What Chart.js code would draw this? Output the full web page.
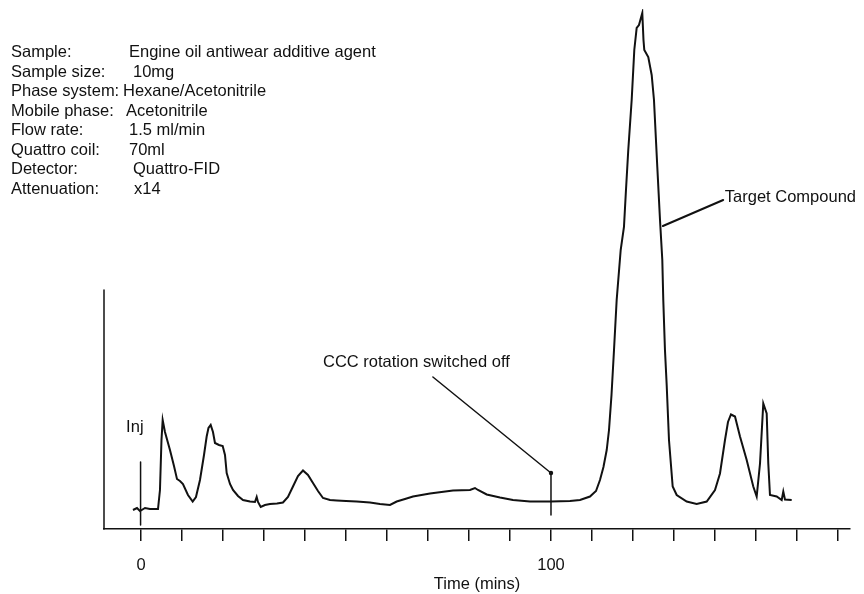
<!DOCTYPE html>
<html>
<head>
<meta charset="utf-8">
<title>Engine oil antiwear additive agent - CCC run</title>
<script src="https://cdn.jsdelivr.net/npm/chart.js@4.4.1/dist/chart.umd.min.js"></script>
<style>
  html, body { margin: 0; padding: 0; background: #fff; }
  #wrap { position: relative; width: 864px; height: 594px; }
  #chart { position: absolute; left: 0; top: 0; }
  #conditions {
    position: absolute; left: 0; top: 42px;
    font-family: 'Liberation Sans', Arial, Helvetica, sans-serif;
    font-size: 16.5px; line-height: 19.5px; color: #111;
  }
  #conditions .row { position: relative; height: 19.5px; white-space: nowrap; }
  #conditions .lbl { position: absolute; left: 11px; }
  #conditions .val { position: absolute; }
</style>
</head>
<body>
<div id="wrap">
  <canvas id="chart" width="864" height="594"></canvas>
  <div id="conditions">
    <div class="row"><span class="lbl">Sample:</span><span class="val" style="left:129px">Engine oil antiwear additive agent</span></div>
    <div class="row"><span class="lbl">Sample size:</span><span class="val" style="left:133px">10mg</span></div>
    <div class="row"><span class="lbl">Phase system:</span><span class="val" style="left:123px">Hexane/Acetonitrile</span></div>
    <div class="row"><span class="lbl">Mobile phase:</span><span class="val" style="left:126px">Acetonitrile</span></div>
    <div class="row"><span class="lbl">Flow rate:</span><span class="val" style="left:129px">1.5 ml/min</span></div>
    <div class="row"><span class="lbl">Quattro coil:</span><span class="val" style="left:129px">70ml</span></div>
    <div class="row"><span class="lbl">Detector:</span><span class="val" style="left:133px">Quattro-FID</span></div>
    <div class="row"><span class="lbl">Attenuation:</span><span class="val" style="left:134px">x14</span></div>
  </div>
</div>
<script>
// detector trace: time (min) and FID response (arbitrary units)
const timeMin = [
  -1.95, -0.98, -0.24, 0.98, 2.2, 4.15, 4.63, 5.0, 5.29, 5.85,
  7.07, 8.05, 8.78, 9.51, 10.24, 11.46, 12.61, 13.41, 14.39, 15.37,
  16.02, 16.46, 17.0, 17.56, 18.05, 19.02, 19.93, 20.49, 20.9, 21.71,
  22.44, 23.66, 24.88, 26.59, 27.8, 28.22, 28.54, 29.2, 30.24, 31.46,
  33.17, 34.63, 35.85, 37.07, 38.29, 39.51, 40.73, 41.95, 43.17, 44.39,
  46.1, 47.73, 50.0, 52.61, 55.85, 58.29, 60.73, 62.37, 64.39, 66.34,
  70.49, 76.1, 80.24, 81.46, 82.2, 84.32, 87.56, 90.73, 94.88, 100.0,
  104.63, 107.07, 109.51, 110.98, 111.95, 112.8, 113.59, 114.15, 114.76, 115.37,
  116.02, 117.0, 117.8, 118.29, 118.85, 119.68, 120.32, 120.9, 121.46, 122.27,
  122.56, 122.76, 123.73, 124.56, 125.12, 125.93, 126.59, 127.15, 127.39, 127.8,
  128.22, 128.78, 129.68, 130.66, 133.1, 135.54, 137.98, 140.0, 141.22, 142.44,
  143.17, 143.9, 144.88, 146.1, 147.73, 149.34, 150.17, 150.98, 151.78, 152.61,
  153.0, 153.41, 155.05, 156.27, 156.66, 157.07, 158.71
];
const response = [
  3.8, 4.2, 3.6, 4.2, 4.0, 4.0, 7.8, 17.8, 21.8, 19.4,
  15.8, 12.6, 10.0, 9.6, 9.0, 6.8, 5.5, 6.4, 9.8, 14.8,
  18.5, 20.2, 20.8, 19.4, 17.2, 16.8, 16.6, 14.8, 11.2, 9.0,
  7.8, 6.6, 5.8, 5.5, 5.4, 6.4, 5.4, 4.4, 4.8, 5.0,
  5.1, 5.3, 6.4, 8.5, 10.6, 11.7, 10.8, 9.2, 7.6, 6.2,
  5.8, 5.7, 5.6, 5.5, 5.3, 5.0, 4.8, 5.5, 6.0, 6.5,
  7.1, 7.7, 7.8, 8.2, 7.8, 6.9, 6.3, 5.8, 5.5, 5.5,
  5.6, 5.8, 6.5, 7.6, 9.8, 12.4, 15.8, 19.8, 26.8, 35.8,
  45.8, 55.8, 60.4, 67.8, 75.8, 85.8, 95.8, 100.2, 100.8, 103.2,
  97.8, 95.8, 94.4, 90.8, 85.8, 72.4, 61.8, 53.8, 45.8, 35.8,
  28.8, 17.8, 8.5, 6.8, 5.5, 5.0, 5.5, 7.8, 11.1, 17.8,
  21.4, 22.9, 22.5, 18.5, 13.8, 8.5, 6.5, 13.1, 25.1, 23.1,
  13.1, 6.8, 6.5, 5.8, 7.5, 5.9, 5.8
];

// axis ticks
const xTicks = [0, 10, 20, 30, 40, 50, 60, 70, 80, 90, 100, 110, 120, 130, 140, 150, 160, 170];
const xLabeled = [0, 100];

const X_MIN = -9.02;
const X_MAX = 172.93;
const Y_MAX = 104;
const Y_AXIS_TOP = 47.8;   // the drawn y axis stops part way up

// markers on the trace
const injMark = { t: -0.1, from: 0.8, to: 13.4, labelT: -1.5, labelV: 20.4, text: 'Inj' };
const rotationOff = { t: 100, from: 2.8, to: 11.2, leadT: 71.2, leadV: 30.4, labelT: 44.4, labelV: 33.4, text: 'CCC rotation switched off' };
const target = { t: 127.3, v: 60.6, leadT: 142.0, leadV: 65.8, labelT: 142.4, labelV: 66.4, text: 'Target Compound' };

const INK = '#111';
const FONT = "16.5px 'Liberation Sans', Arial, Helvetica, sans-serif";

const markers = {
  id: 'markers',
  afterDatasetsDraw(chart) {
    const { ctx } = chart;
    const xs = chart.scales.x, ys = chart.scales.y;
    const px = v => xs.getPixelForValue(v);
    const py = v => ys.getPixelForValue(v);
    ctx.save();
    ctx.strokeStyle = INK;
    ctx.fillStyle = INK;
    ctx.lineCap = 'round';

    // left axis line
    ctx.lineWidth = 1.5;
    ctx.beginPath();
    ctx.moveTo(px(X_MIN), py(0));
    ctx.lineTo(px(X_MIN), py(Y_AXIS_TOP));
    ctx.stroke();

    // injection
    ctx.lineWidth = 1.5;
    ctx.beginPath();
    ctx.moveTo(px(injMark.t), py(injMark.from));
    ctx.lineTo(px(injMark.t), py(injMark.to));
    ctx.stroke();

    // rotation switched off
    ctx.beginPath();
    ctx.moveTo(px(rotationOff.t), py(rotationOff.from));
    ctx.lineTo(px(rotationOff.t), py(rotationOff.to));
    ctx.lineTo(px(rotationOff.leadT), py(rotationOff.leadV));
    ctx.stroke();
    ctx.beginPath();
    ctx.arc(px(rotationOff.t), py(rotationOff.to), 2.2, 0, Math.PI * 2);
    ctx.fill();

    // target compound leader
    ctx.lineWidth = 2;
    ctx.beginPath();
    ctx.moveTo(px(target.t), py(target.v));
    ctx.lineTo(px(target.leadT), py(target.leadV));
    ctx.stroke();

    ctx.font = FONT;
    ctx.textBaseline = 'middle';
    ctx.textAlign = 'center';
    ctx.fillText(injMark.text, px(injMark.labelT), py(injMark.labelV));
    ctx.textAlign = 'left';
    ctx.fillText(rotationOff.text, px(rotationOff.labelT), py(rotationOff.labelV));
    ctx.fillText(target.text, px(target.labelT), py(target.labelV));
    ctx.restore();
  }
};

const fontSpec = { family: "'Liberation Sans', Arial, Helvetica, sans-serif", size: 16.5 };

new Chart(document.getElementById('chart'), {
  type: 'line',
  data: {
    datasets: [{
      data: timeMin.map((t, i) => ({ x: t, y: response[i] })),
      borderColor: INK,
      borderWidth: 2,
      pointRadius: 0,
      tension: 0,
      fill: false
    }]
  },
  options: {
    responsive: false,
    animation: false,
    devicePixelRatio: 1,
    layout: { padding: { left: 104, right: 14, top: 9, bottom: 0 } },
    plugins: { legend: { display: false }, tooltip: { enabled: false } },
    scales: {
      x: {
        type: 'linear',
        min: X_MIN,
        max: X_MAX,
        afterBuildTicks: s => { s.ticks = xTicks.map(v => ({ value: v })); },
        afterFit: s => { s.height = 65; },
        border: { color: INK, width: 1.5 },
        grid: { drawOnChartArea: false, drawTicks: true, tickLength: 12, color: INK, lineWidth: 1.5 },
        ticks: {
          autoSkip: false,
          maxRotation: 0,
          padding: 15,
          color: INK,
          font: fontSpec,
          callback: v => xLabeled.includes(v) ? String(v) : ''
        },
        title: { display: true, text: 'Time (mins)', color: INK, font: fontSpec, padding: 0 }
      },
      y: { display: false, min: 0, max: Y_MAX }
    }
  },
  plugins: [markers]
});
</script>
</body>
</html>
